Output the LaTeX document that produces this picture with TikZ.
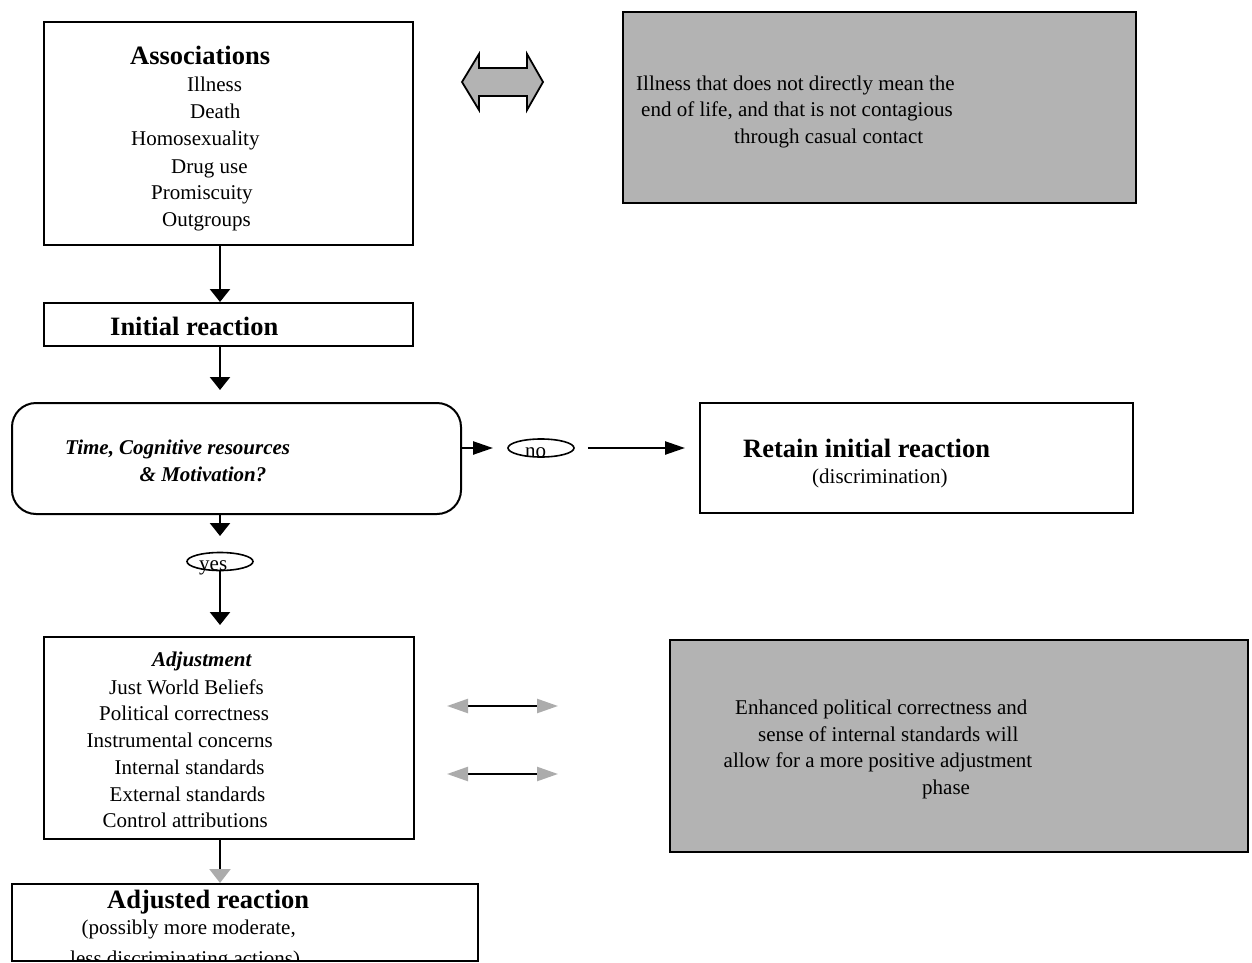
\documentclass[tikz,border=0pt]{standalone}
\usepackage{fontspec}
\setmainfont{Liberation Serif}
\usetikzlibrary{arrows.meta,shapes.geometric}
\definecolor{boxgray}{RGB}{179,179,179}
\definecolor{tipgray}{RGB}{172,172,172}
\begin{document}
\begin{tikzpicture}[x=1pt,y=-1pt,
  box/.style={draw, line width=2pt, inner sep=0pt, rectangle},
  graybox/.style={box, fill=boxgray},
  txt/.style={anchor=base west, inner sep=0pt, font=\fontsize{21}{26}\selectfont},
  itxt/.style={txt, font=\fontsize{21}{26}\selectfont\bfseries\itshape},
  headtxt/.style={anchor=base west, inner sep=0pt, font=\fontsize{26.5}{32}\selectfont\bfseries},
  oval/.style={draw, ellipse, line width=1.6pt, inner sep=0pt, minimum width=66pt, minimum height=18pt},
  vflow/.style={line width=2.4pt, -{Triangle[width=20pt,length=13pt]}},
  hflow/.style={line width=2.4pt, -{Triangle[width=13pt,length=20pt]}},
  vgray/.style={line width=2.4pt, -{Triangle[width=21pt,length=14pt,color=tipgray]}},
  hgray/.style={line width=2.4pt, {Triangle[width=14pt,length=21pt,color=tipgray]}-{Triangle[width=14pt,length=21pt,color=tipgray]}}
]
\useasboundingbox (0,0) rectangle (1252,963);

% boxes
\node[box, minimum width=369pt, minimum height=223pt] (assoc) at (228.5,133.5) {};
\node[graybox, minimum width=513pt, minimum height=191pt] (note1) at (879.5,107.5) {};
\node[box, minimum width=369pt, minimum height=43pt] (init) at (228.5,324.5) {};
\node[box, rounded corners=24pt, minimum width=449pt, minimum height=111pt] (time) at (236.5,458.5) {};
\node[box, minimum width=433pt, minimum height=110pt] (retain) at (916.5,458) {};
\node[box, minimum width=370pt, minimum height=202pt] (adjust) at (229,738) {};
\node[graybox, minimum width=578pt, minimum height=212pt] (note2) at (959,746) {};

% two-headed block arrow
\filldraw[fill=boxgray, line width=1.8pt, line join=miter]
  (462,82) -- (479,54) -- (479,68) -- (527,68) -- (527,54) -- (543,82)
  -- (527,110) -- (527,96) -- (479,96) -- (479,110) -- cycle;

% Associations
\node[headtxt] (t-assoc) at (130,65) {Associations};
\node[txt] (t-a1) at (187,92) {Illness};
\node[txt] (t-a2) at (190,118) {Death};
\node[txt] (t-a3) at (131,146) {Homosexuality};
\node[txt] (t-a4) at (171,173) {Drug use};
\node[txt] (t-a5) at (151,199) {Promiscuity};
\node[txt] (t-a6) at (162,226) {Outgroups};

% first note
\node[txt] (t-n1) at (636,91) {Illness that does not directly mean the};
\node[txt] (t-n2) at (641,117) {end of life, and that is not contagious};
\node[txt] (t-n3) at (734,143.5) {through casual contact};

% initial reaction
\node[headtxt] (t-init) at (110,335) {Initial reaction};

% decision
\node[itxt] (t-time1) at (65,454) {Time, Cognitive resources};
\node[itxt] (t-time2) at (139.5,481.5) {\& Motivation?};

% retain
\node[headtxt] (t-ret) at (743,457) {Retain initial reaction};
\node[txt] (t-ret2) at (812,483.5) {(discrimination)};

% yes / no ovals
\node[oval] (no) at (541,448) {};
\node[txt] (t-no) at (525,457.5) {no};
\node[oval] (yes) at (220,561.5) {};
\node[txt] (t-yes) at (199,570) {yes};

% adjustment
\node[itxt] (t-adj) at (152,666) {Adjustment};
\node[txt] (t-j1) at (109,694) {Just World Beliefs};
\node[txt] (t-j2) at (99,720) {Political correctness};
\node[txt] (t-j3) at (86.5,747) {Instrumental concerns};
\node[txt] (t-j4) at (114.5,774) {Internal standards};
\node[txt] (t-j5) at (109.5,801) {External standards};
\node[txt] (t-j6) at (102.5,827) {Control attributions};

% second note
\node[txt] (t-m1) at (735,714) {Enhanced political correctness and};
\node[txt] (t-m2) at (758,741) {sense of internal standards will};
\node[txt] (t-m3) at (723.5,767.5) {allow for a more positive adjustment};
\node[txt] (t-m4) at (922,794) {phase};

% adjusted reaction (last line runs past the page edge)
\begin{scope}
  \clip (0,0) rectangle (1252,961);
  \node[headtxt] (t-fin) at (107,908) {Adjusted reaction};
  \node[txt] (t-fin2) at (81.5,934) {(possibly more moderate,};
  \node[txt] (t-fin3) at (70,965) {less discriminating actions)};
\end{scope}
\node[box, minimum width=466pt, minimum height=77pt] (final) at (245,922.5) {};

% connectors
\coordinate (spine) at (220,0);
\coordinate (e-time) at (220,390);
\coordinate (e-yes) at (220,536);
\coordinate (e-adj) at (220,625);
\coordinate (e-no) at (493,448);
\coordinate (e-ret) at (685,448);
\draw[vflow] (assoc.south -| spine) -- (init.north -| spine);
\draw[vflow] (init.south -| spine) -- (e-time);
\draw[vflow] (time.south -| spine) -- (e-yes);
\draw[vflow] (yes.south -| spine) -- (e-adj);
\draw[vgray] (adjust.south -| spine) -- (final.north -| spine);
\draw[hflow] (time.east |- e-no) -- (e-no);
\draw[hflow] ([xshift=13pt]no.east |- e-ret) -- (e-ret);

\coordinate (g1a) at (447,706);
\coordinate (g1b) at (558,706);
\coordinate (g2a) at (447,774);
\coordinate (g2b) at (558,774);
\draw[hgray] (g1a) -- (g1b);
\draw[hgray] (g2a) -- (g2b);
\end{tikzpicture}
\end{document}
